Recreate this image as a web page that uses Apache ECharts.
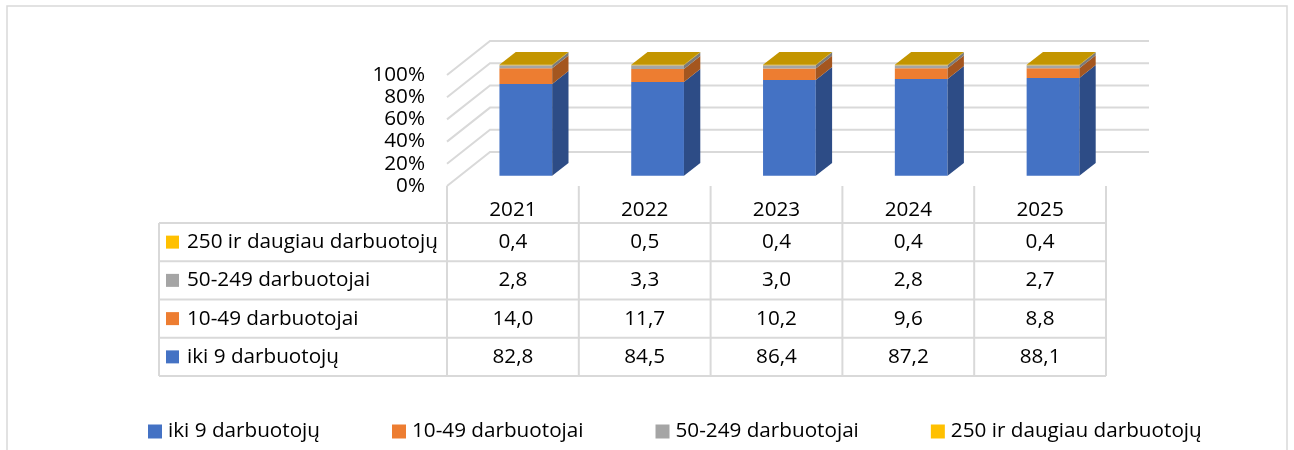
<!DOCTYPE html>
<html>
<head>
<meta charset="utf-8">
<script src="https://cdn.jsdelivr.net/npm/echarts@6/dist/echarts.min.js"></script>
<style>
  html, body { margin: 0; padding: 0; background: #fff; }
  #chart { width: 1294px; height: 450px; }
</style>
</head>
<body>
<div id="chart"></div>
<script>
// duomenys
const years = ['2021', '2022', '2023', '2024', '2025'];
const seriesNames = ['iki 9 darbuotojų', '10-49 darbuotojai', '50-249 darbuotojai', '250 ir daugiau darbuotojų'];
const iki9 = [82.8, 84.5, 86.4, 87.2, 88.1];
const d10_49 = [14.0, 11.7, 10.2, 9.6, 8.8];
const d50_249 = [2.8, 3.3, 3.0, 2.8, 2.7];
const d250 = [0.4, 0.5, 0.4, 0.4, 0.4];
const yTicks = [0, 20, 40, 60, 80, 100];

const values = [iki9, d10_49, d50_249, d250];
const frontColors = ['#4472C4', '#ED7D31', '#A5A5A5', '#FFC000'];
const sideColors = ['#2D4C86', '#A4561F', '#7A7A7A', '#B58A00'];
const topColor = '#C39500';
const gridLine = '#D9D9D9';
const FONT = '"Open Sans"';
const FS = 20.7;

// 3D gylis (pikseliais) ir stulpelio padėtis gylyje
const DX = 43, DY = -34;
const ZF = 0.3, ZB = 0.68;

const gridLeft = 447, gridTop = 75, gridW = 659, gridH = 111;

// 100% stacking
const totals = years.map((_, i) => values.reduce((s, v) => s + v[i], 0));
const stacked = values.map((arr, si) => arr.map((v, i) => {
  let base = 0;
  for (let k = 0; k < si; k++) base += values[k][i];
  return [i, base / totals[i] * 100, (base + v) / totals[i] * 100];
}));

function shift(p, z) { return [p[0] + DX * z, p[1] + DY * z]; }

function renderWall(params, api) {
  const cs = params.coordSys;
  const v = api.value(0);
  const y = api.coord([0, v])[1];
  const l = [cs.x, y], r = [cs.x + cs.width, y];
  return {
    type: 'polyline',
    shape: { points: [l, shift(l, 1), shift(r, 1)] },
    style: { stroke: gridLine, lineWidth: 2, fill: null }
  };
}

function makeBarRender(si) {
  return function (params, api) {
    const cat = api.value(0);
    const p0 = api.coord([cat, api.value(1)]);
    const p1 = api.coord([cat, api.value(2)]);
    const hw = api.size([1, 0])[0] * 0.2;
    const x0 = p0[0] - hw, x1 = p0[0] + hw;
    const fbl = shift([x0, p0[1]], ZF), fbr = shift([x1, p0[1]], ZF);
    const ftl = shift([x0, p1[1]], ZF), ftr = shift([x1, p1[1]], ZF);
    const bbr = shift([x1, p0[1]], ZB), btr = shift([x1, p1[1]], ZB);
    const btl = shift([x0, p1[1]], ZB);
    const children = [
      { type: 'polygon', shape: { points: [fbl, fbr, ftr, ftl] }, style: { fill: frontColors[si] } },
      { type: 'polygon', shape: { points: [fbr, bbr, btr, ftr] }, style: { fill: sideColors[si] } }
    ];
    if (si === values.length - 1) {
      children.push({ type: 'polygon', shape: { points: [ftl, ftr, btr, btl] }, style: { fill: topColor } });
    }
    return { type: 'group', children: children };
  };
}

// lentelė
const tableLeft = 159, headTop = 186, rowTop = 223, rowH = 38.25;
const colW = gridW / years.length;
const tableRight = gridLeft + gridW;
const tableRows = [3, 2, 1, 0];

function buildTable() {
  const g = [];
  const font = FS + 'px ' + FONT;
  const line = (x1, y1, x2, y2) => g.push({
    type: 'line', shape: { x1: x1, y1: y1, x2: x2, y2: y2 },
    style: { stroke: gridLine, lineWidth: 2 }
  });
  for (let r = 0; r <= tableRows.length; r++) {
    line(tableLeft, rowTop + r * rowH, tableRight, rowTop + r * rowH);
  }
  const bottom = rowTop + tableRows.length * rowH;
  line(tableLeft, rowTop, tableLeft, bottom);
  for (let c = 0; c <= years.length; c++) {
    line(gridLeft + c * colW, headTop, gridLeft + c * colW, bottom);
  }
  years.forEach((yr, c) => g.push({
    type: 'text', x: gridLeft + (c + 0.5) * colW, y: (headTop + rowTop) / 2 + 6,
    style: { text: yr, font: font, fill: '#000', align: 'center', verticalAlign: 'middle' }
  }));
  tableRows.forEach((si, r) => {
    const cy = rowTop + (r + 0.5) * rowH;
    g.push({ type: 'rect', shape: { x: tableLeft + 7, y: cy - 6.5, width: 13, height: 13 }, style: { fill: frontColors[si] } });
    g.push({
      type: 'text', x: tableLeft + 28, y: cy,
      style: { text: seriesNames[si], font: font, fill: '#000', align: 'left', verticalAlign: 'middle' }
    });
    values[si].forEach((v, c) => g.push({
      type: 'text', x: gridLeft + (c + 0.5) * colW, y: cy,
      style: { text: v.toFixed(1).replace('.', ','), font: font, fill: '#000', align: 'center', verticalAlign: 'middle' }
    }));
  });
  g.push({
    type: 'rect', silent: true, shape: { x: 7, y: 6, width: 1280, height: 470 },
    style: { fill: null, stroke: gridLine, lineWidth: 1.5 }
  });
  return g;
}

const chart = echarts.init(document.getElementById('chart'));
chart.setOption({
  animation: false,
  textStyle: { fontFamily: FONT },
  grid: { left: gridLeft, top: gridTop, width: gridW, height: gridH },
  xAxis: {
    type: 'category', data: years, show: false
  },
  yAxis: {
    type: 'value', min: 0, max: 100, interval: 20,
    axisLine: { show: false }, axisTick: { show: false }, splitLine: { show: false },
    axisLabel: { formatter: '{value}%', color: '#000', fontSize: FS, margin: 22 }
  },
  legend: {
    data: seriesNames,
    left: 143, top: 416,
    icon: 'rect', itemWidth: 14, itemHeight: 14, itemGap: 72,
    textStyle: { color: '#000', fontSize: FS, fontFamily: FONT, padding: [0, 0, 0, 1] }
  },
  graphic: buildTable(),
  series: [
    {
      type: 'custom', name: 'walls', silent: true, z: 1,
      data: yTicks.map(v => [v]),
      renderItem: renderWall
    }
  ].concat(seriesNames.map((name, si) => ({
    type: 'custom', name: name, z: 2,
    itemStyle: { color: frontColors[si] },
    encode: { x: 0, y: [1, 2] },
    data: stacked[si],
    renderItem: makeBarRender(si)
  })))
});
</script>
</body>
</html>
